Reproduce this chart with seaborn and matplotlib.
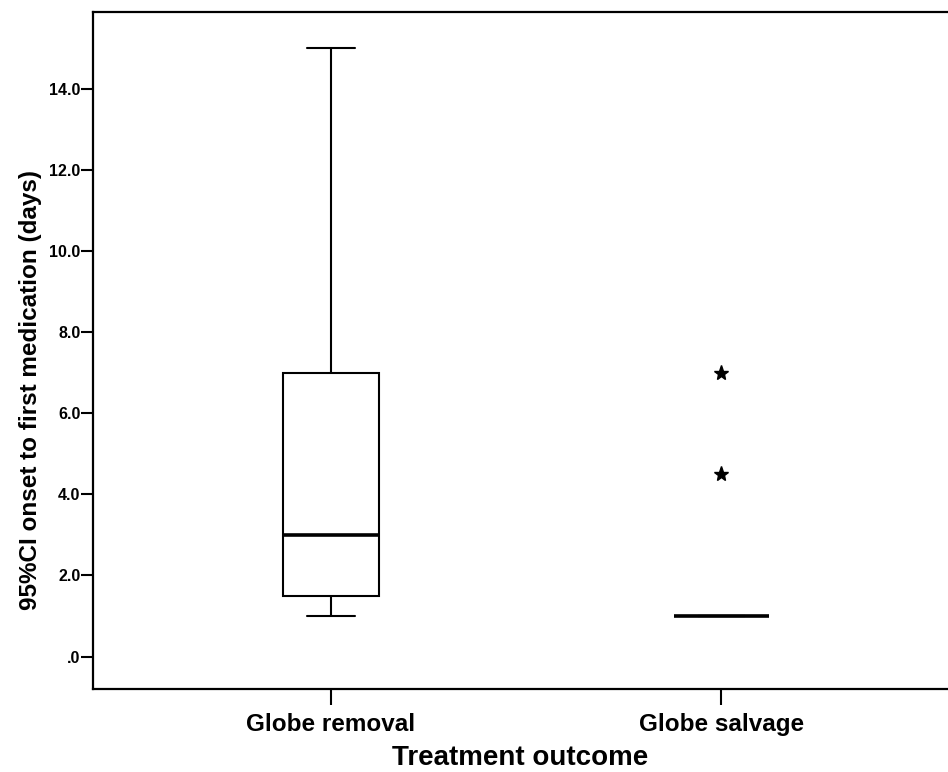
import pandas as pd
import matplotlib
matplotlib.use("Agg")
import matplotlib.pyplot as plt
import seaborn as sns

# values
globe_removal = [1.0, 1.5, 1.5, 2.0, 3.0, 4.0, 7.0, 7.0, 15.0]
globe_salvage = [1.0, 1.0, 1.0, 1.0, 1.0, 1.0, 1.0, 1.0, 4.5, 7.0]
categories = ["Globe removal", "Globe salvage"]
y_ticks = [0, 2, 4, 6, 8, 10, 12, 14]
y_tick_labels = [".0", "2.0", "4.0", "6.0", "8.0", "10.0", "12.0", "14.0"]

df = pd.DataFrame({
    "outcome": [categories[0]] * len(globe_removal) + [categories[1]] * len(globe_salvage),
    "days": globe_removal + globe_salvage,
})

sns.set_style("white")
plt.rcParams["font.family"] = ["Liberation Sans", "DejaVu Sans"]
plt.rcParams["font.weight"] = "bold"
plt.rcParams["text.color"] = "black"
plt.rcParams["axes.labelcolor"] = "black"
plt.rcParams["xtick.color"] = "black"
plt.rcParams["ytick.color"] = "black"

fig = plt.figure(figsize=(9.48, 7.72), dpi=100)
ax = fig.add_axes([0.0981, 0.1075, 0.9019, 0.877])

sns.boxplot(
    data=df, x="outcome", y="days", order=categories,
    color="white", linecolor="black", linewidth=1.5, width=0.245, whis=1.5,
    flierprops=dict(marker="*", markersize=11, markerfacecolor="black",
                    markeredgecolor="black"),
    medianprops=dict(linewidth=2.6),
    ax=ax,
)

ax.set_xlim(-0.609, 1.58)
ax.set_ylim(-0.8, 15.9)
ax.set_yticks(y_ticks)
ax.set_yticklabels(y_tick_labels, fontsize=11.5, fontweight="bold")
ax.set_xticks([0, 1])
ax.set_xticklabels(categories, fontsize=17.5, fontweight="bold")

ax.set_xlabel("Treatment outcome", fontsize=20, fontweight="bold", labelpad=6.5)
ax.set_ylabel("95%CI onset to first medication (days)", fontsize=17.5,
              fontweight="bold", labelpad=5)
ax.yaxis.label.set_y(0.4417)

for side in ["left", "bottom", "top"]:
    ax.spines[side].set_visible(True)
    ax.spines[side].set_linewidth(1.6)
    ax.spines[side].set_color("black")
ax.spines["right"].set_visible(False)

ax.tick_params(axis="y", direction="out", length=8.5, width=1.5, pad=0.5, left=True)
ax.tick_params(axis="x", direction="out", length=11.5, width=1.5, pad=6, bottom=True)

fig.savefig("out.png", dpi=100)
